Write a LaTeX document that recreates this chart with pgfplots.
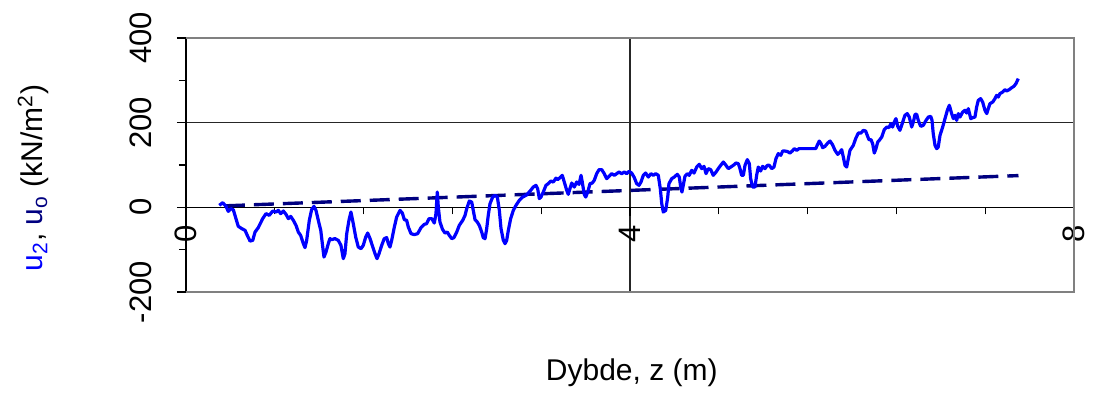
\documentclass[border=0pt]{standalone}
\usepackage{fontspec}
\setmainfont{Liberation Sans}
\usepackage{pgfplots}
\pgfplotsset{compat=1.18}
\definecolor{navyc}{RGB}{0,0,128}
\definecolor{bluec}{RGB}{0,0,255}
\begin{document}
\begin{tikzpicture}
\useasboundingbox (0,0) rectangle (547pt,196pt);
\begin{axis}[
  at={(93pt,50pt)}, anchor=south west,
  scale only axis, width=444pt, height=127pt,
  xmin=0, xmax=8, ymin=-200, ymax=400,
  axis x line=middle, axis y line=left,
  hide obscured x ticks=false, hide obscured y ticks=false,
  x axis line style={-, black, line width=0.6pt},
  y axis line style={-, black, line width=0.8pt},
  xtick={0,4,8}, xticklabels={0,4,8},
  minor x tick num=4,
  ytick={-200,0,200,400}, yticklabels={-200,0,200,400},
  minor y tick num=1,
  tick align=outside,
  major tick length=4.5pt, minor tick length=3.5pt,
  tick style={black, line width=0.6pt},
  xmajorgrids, ymajorgrids,
  major grid style={black!85, line width=0.6pt},
  ticklabel style={font=\fontsize{15.5}{18}\selectfont},
  xticklabel style={anchor=center, yshift=-9pt, rotate=90},
  yticklabel style={anchor=center, xshift=-18pt, rotate=90},
  label style={font=\fontsize{15}{18}\selectfont},
  xlabel={Dybde, z (m)},
  xlabel style={at={(axis description cs:0.502,-0.3465)}, anchor=base},
  ylabel={{\color{bluec}u\textsubscript{2}}, {\color{navyc}u\textsubscript{o}} (kN/m\textsuperscript{2})},
  ylabel style={at={(axis description cs:-0.172,0.449)}, anchor=center, rotate=0},
  clip=false,
]
\draw[gray, line width=1pt] (rel axis cs:0,1) -- (rel axis cs:1,1) -- (rel axis cs:1,0) -- (rel axis cs:0,0);
\addplot[navyc, line width=1.7pt, dash pattern=on 10pt off 4.5pt] coordinates {(0.35,3.5) (7.5,75)};
\addplot[bluec, line width=1.6pt, line join=round] coordinates {
(0.300,4.7) (0.331,11.1) (0.360,2.4) (0.381,-9.5) (0.403,-3.1) (0.426,-5.4) (0.450,-26.7) (0.471,-44.9)
(0.502,-50.3) (0.532,-54.3) (0.552,-66.2) (0.577,-79.6) (0.601,-78.0) (0.622,-58.4) (0.651,-48.0) (0.691,-26.7)
(0.721,-14.9) (0.750,-18.9) (0.781,-8.7) (0.811,-11.1) (0.832,-7.1) (0.853,-14.9) (0.877,-8.7) (0.901,-16.5)
(0.922,-26.7) (0.943,-21.3) (0.967,-30.7) (0.991,-42.5) (1.012,-58.4) (1.033,-66.2) (1.057,-85.8) (1.072,-95.2)
(1.087,-78.0) (1.111,-30.7) (1.132,-5.4) (1.153,2.4) (1.171,-7.1) (1.192,-30.7) (1.214,-54.3) (1.232,-93.8)
(1.243,-117.4) (1.261,-105.6) (1.282,-85.8) (1.297,-73.9) (1.313,-76.3) (1.342,-73.9) (1.372,-78.0) (1.396,-89.8)
(1.417,-121.2) (1.432,-109.4) (1.448,-62.1) (1.468,-30.7) (1.486,-11.1) (1.507,-38.5) (1.529,-70.2) (1.552,-93.8)
(1.577,-97.6) (1.597,-89.8) (1.619,-70.2) (1.637,-60.7) (1.658,-73.9) (1.678,-89.8) (1.703,-109.4) (1.721,-121.2)
(1.739,-109.4) (1.763,-89.8) (1.786,-73.9) (1.808,-71.6) (1.823,-85.8) (1.838,-93.8) (1.853,-78.0) (1.877,-46.5)
(1.898,-22.9) (1.928,-7.1) (1.949,-13.5) (1.967,-29.1) (1.988,-30.7) (2.003,-46.5) (2.027,-62.1) (2.057,-64.5)
(2.087,-62.1) (2.117,-48.0) (2.147,-40.2) (2.168,-38.5) (2.189,-26.7) (2.214,-26.7) (2.237,-37.1) (2.252,-14.9)
(2.264,36.1) (2.273,0.7) (2.288,-34.7) (2.311,-52.0) (2.333,-60.7) (2.354,-58.4) (2.372,-66.2) (2.394,-73.9)
(2.414,-71.6) (2.439,-58.4) (2.462,-42.5) (2.493,-30.7) (2.514,-18.9) (2.529,-3.1) (2.552,14.9) (2.574,12.5)
(2.588,-7.1) (2.604,-29.1) (2.624,-34.7) (2.642,-42.5) (2.664,-58.4) (2.678,-71.6) (2.694,-73.9) (2.709,-50.3)
(2.723,-18.9) (2.739,8.7) (2.763,24.3) (2.784,28.4) (2.805,24.3) (2.823,-7.1) (2.838,-50.3) (2.859,-78.0)
(2.874,-85.8) (2.889,-78.0) (2.904,-54.3) (2.925,-26.7) (2.949,-7.1) (2.973,4.7) (3.003,16.5) (3.033,24.3)
(3.063,28.4) (3.084,33.8) (3.105,40.2) (3.129,48.0) (3.153,52.0) (3.168,44.2) (3.183,20.6) (3.198,24.3)
(3.219,36.1) (3.243,52.0) (3.264,56.0) (3.286,62.1) (3.309,59.8) (3.333,69.0) (3.349,65.4) (3.369,70.2)
(3.390,75.6) (3.408,59.8) (3.430,40.2) (3.444,30.7) (3.459,44.2) (3.475,57.4) (3.498,48.0) (3.520,59.8)
(3.541,54.3) (3.559,75.6) (3.570,59.8) (3.588,30.7) (3.601,24.3) (3.619,36.1) (3.640,56.0) (3.660,57.4)
(3.678,63.8) (3.700,79.6) (3.721,89.1) (3.745,89.1) (3.768,79.6) (3.790,67.8) (3.811,73.2) (3.835,79.6)
(3.859,75.6) (3.880,79.6) (3.901,83.4) (3.925,79.6) (3.949,83.4) (3.970,79.6) (3.991,85.1) (4.015,81.0)
(4.039,70.2) (4.060,56.0) (4.081,52.0) (4.099,59.8) (4.120,75.6) (4.141,81.0) (4.165,71.6) (4.189,79.6)
(4.210,75.6) (4.232,79.6) (4.255,75.6) (4.273,44.2) (4.286,8.7) (4.300,-11.1) (4.322,-7.1) (4.340,24.3)
(4.351,56.0) (4.376,67.8) (4.399,71.6) (4.426,78.0) (4.444,71.6) (4.457,48.0) (4.468,36.1) (4.480,52.0)
(4.495,73.2) (4.516,79.6) (4.534,75.6) (4.556,87.4) (4.577,81.0) (4.601,95.2) (4.624,101.6) (4.646,91.4)
(4.667,96.9) (4.685,79.6) (4.705,91.4) (4.727,89.1) (4.750,75.6) (4.775,83.4) (4.795,91.4) (4.817,99.2)
(4.841,107.0) (4.865,99.2) (4.886,91.4) (4.907,95.2) (4.931,99.2) (4.955,104.7) (4.976,103.2) (4.991,91.4)
(5.006,75.6) (5.021,75.6) (5.036,99.2) (5.057,112.7) (5.075,103.2) (5.087,67.8) (5.105,48.0) (5.126,48.0)
(5.141,75.6) (5.156,95.2) (5.177,85.8) (5.195,96.9) (5.216,91.4) (5.237,99.2) (5.255,99.2) (5.277,91.4)
(5.297,95.2) (5.315,115.1) (5.336,126.9) (5.358,122.9) (5.376,133.0) (5.396,133.0) (5.419,131.8) (5.441,128.3)
(5.462,133.0) (5.480,138.7) (5.502,134.7) (5.523,138.7) (5.673,138.7) (5.691,148.8) (5.705,156.6) (5.721,150.5)
(5.736,141.0) (5.757,144.1) (5.781,151.9) (5.802,156.6) (5.823,148.8) (5.847,134.7) (5.871,125.2) (5.892,130.6)
(5.907,136.3) (5.922,118.8) (5.937,99.2) (5.952,95.2) (5.967,115.1) (5.982,134.7) (6.012,146.5) (6.033,162.3)
(6.057,175.5) (6.081,175.5) (6.102,181.9) (6.123,180.3) (6.141,167.7) (6.153,159.9) (6.171,159.9) (6.186,150.5)
(6.201,128.3) (6.216,138.7) (6.232,154.3) (6.246,158.3) (6.268,166.1) (6.291,183.6) (6.313,189.7) (6.333,188.3)
(6.351,197.7) (6.366,189.7) (6.381,201.5) (6.396,209.6) (6.412,191.4) (6.432,181.9) (6.457,201.5) (6.477,217.4)
(6.498,221.4) (6.516,213.3) (6.538,189.7) (6.553,201.5) (6.568,219.7) (6.583,219.7) (6.597,205.5) (6.619,191.4)
(6.642,193.7) (6.667,205.5) (6.688,213.3) (6.709,215.0) (6.721,205.5) (6.732,174.1) (6.748,146.5) (6.763,138.7)
(6.777,142.5) (6.793,170.1) (6.817,189.7) (6.838,209.6) (6.859,229.2) (6.877,241.0) (6.898,221.4) (6.913,209.6)
(6.928,217.4) (6.943,205.5) (6.958,221.4) (6.973,213.3) (6.997,225.1) (7.018,229.2) (7.033,222.8) (7.048,233.2)
(7.070,209.6) (7.088,211.9) (7.108,213.3) (7.123,237.0) (7.138,252.8) (7.159,256.8) (7.177,248.8) (7.198,229.2)
(7.214,221.4) (7.228,233.2) (7.243,245.0) (7.268,248.8) (7.288,256.8) (7.303,264.6) (7.318,260.6) (7.333,268.6)
(7.358,272.4) (7.378,278.1) (7.393,274.8) (7.417,278.1) (7.439,282.8) (7.459,285.9) (7.477,292.2) (7.498,304.1)
};
\end{axis}
\end{tikzpicture}
\end{document}
